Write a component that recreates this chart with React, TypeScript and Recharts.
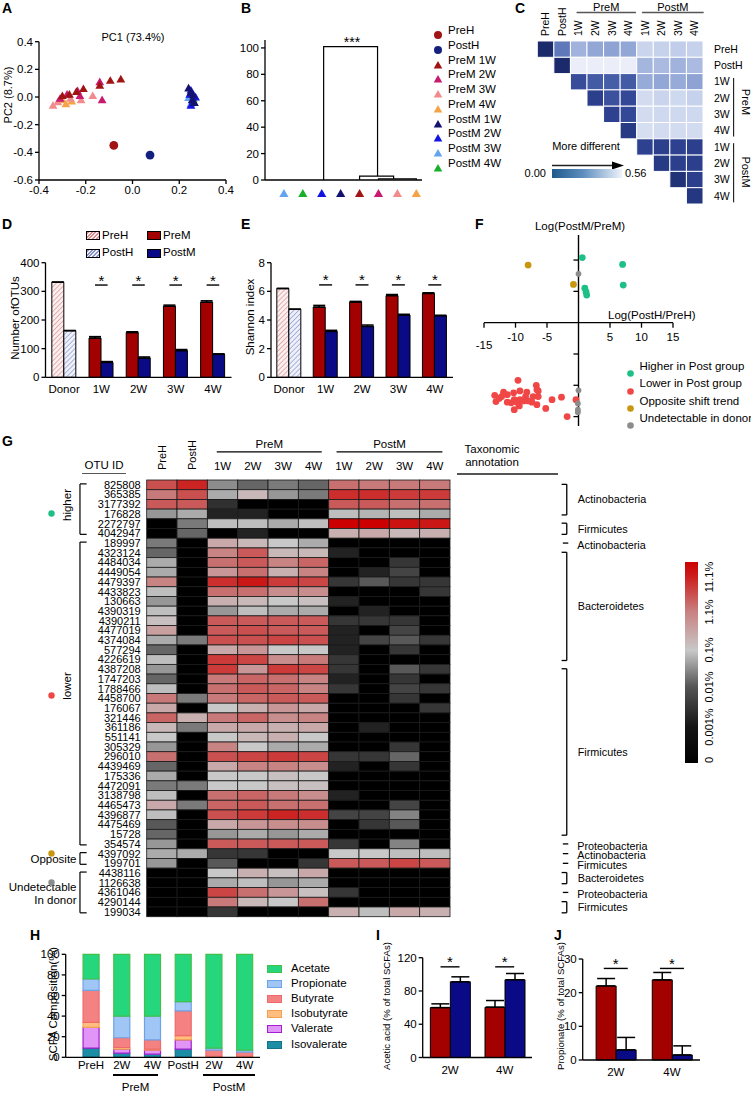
import React from 'react';
import {
  ScatterChart,
  Scatter,
  ComposedChart,
  BarChart,
  LineChart,
  Line,
  Bar,
  Cell,
  ErrorBar,
  XAxis,
  YAxis,
  ReferenceLine
} from 'recharts';

const FONT = '"Liberation Sans", Arial, Helvetica, sans-serif';
const PRE_RED = '#a30000';
const POST_NAVY = '#0a0a86';
const AXIS = { stroke: '#000', strokeWidth: 1.3 };

// ---------- A: PCoA ----------
const pcaPreH = [{ x: -0.08, y: -0.35 }];
const pcaPostH = [{ x: 0.075, y: -0.42 }];
const pcaPreM1W = [
  { x: -0.05, y: 0.13 }, { x: -0.095, y: 0.12 }, { x: -0.14, y: 0.085 },
  { x: -0.21, y: 0.06 }, { x: -0.24, y: 0.04 }, { x: -0.27, y: 0.02 }, { x: -0.3, y: 0.01 }
];
const pcaPreM2W = [
  { x: -0.14, y: 0.11 }, { x: -0.13, y: -0.02 }, { x: -0.235, y: 0.045 },
  { x: -0.28, y: 0.02 }, { x: -0.31, y: -0.01 }, { x: -0.225, y: 0.01 }
];
const pcaPreM3W = [
  { x: -0.17, y: 0.01 }, { x: -0.22, y: -0.02 }, { x: -0.34, y: -0.06 },
  { x: -0.32, y: -0.035 }, { x: -0.265, y: -0.01 }
];
const pcaPreM4W = [{ x: -0.285, y: -0.05 }, { x: -0.26, y: -0.03 }, { x: -0.3, y: -0.02 }];
const pcaPostM1W = [
  { x: 0.24, y: 0.065 }, { x: 0.25, y: 0.035 }, { x: 0.26, y: 0.015 },
  { x: 0.255, y: -0.02 }, { x: 0.265, y: -0.04 }
];
const pcaPostM2W = [
  { x: 0.25, y: 0.05 }, { x: 0.27, y: 0.0 }, { x: 0.26, y: -0.03 },
  { x: 0.25, y: -0.06 }, { x: 0.245, y: 0.02 }
];
const pcaPostM3W = [{ x: 0.24, y: -0.005 }, { x: 0.25, y: -0.05 }];
const pcaPostM4W = [{ x: 0.26, y: -0.01 }];

const pcaSeries = [
  { name: 'PreH', data: pcaPreH, color: '#a01414', dot: true },
  { name: 'PostH', data: pcaPostH, color: '#13207e', dot: true },
  { name: 'PreM 1W', data: pcaPreM1W, color: '#a01414', dot: false },
  { name: 'PreM 2W', data: pcaPreM2W, color: '#c81a6e', dot: false },
  { name: 'PreM 3W', data: pcaPreM3W, color: '#f28c8c', dot: false },
  { name: 'PreM 4W', data: pcaPreM4W, color: '#f6a347', dot: false },
  { name: 'PostM 1W', data: pcaPostM1W, color: '#13136e', dot: false },
  { name: 'PostM 2W', data: pcaPostM2W, color: '#1414e0', dot: false },
  { name: 'PostM 3W', data: pcaPostM3W, color: '#62a4f0', dot: false },
  { name: 'PostM 4W', data: pcaPostM4W, color: '#16b02a', dot: false }
];
const colorOf = (name: string) => pcaSeries.find((s) => s.name === name)?.color ?? '#000';

// ---------- B: dendrogram ----------
const dendroLeaves = ['PostM 3W', 'PostM 4W', 'PostM 2W', 'PostM 1W', 'PreM 1W', 'PreM 2W', 'PreM 3W', 'PreM 4W'];
const dendroBranches = [
  [{ x: 3.1, y: 0 }, { x: 3.1, y: 101 }, { x: 5.95, y: 101 }, { x: 5.95, y: 3 }],
  [{ x: 5.0, y: 0 }, { x: 5.0, y: 3 }, { x: 6.8, y: 3 }, { x: 6.8, y: 0.8 }],
  [{ x: 6.0, y: 0 }, { x: 6.0, y: 0.8 }, { x: 8.0, y: 0.8 }, { x: 8.0, y: 0 }]
];

// ---------- C: distance matrix ----------
const distLabels = ['PreH', 'PostH', '1W', '2W', '3W', '4W', '1W', '2W', '3W', '4W'];
const distMatrix = [
  [0.0, 0.22, 0.37, 0.34, 0.33, 0.34, 0.46, 0.45, 0.44, 0.45],
  [null, 0.0, 0.54, 0.54, 0.54, 0.54, 0.38, 0.39, 0.37, 0.39],
  [null, null, 0.12, 0.15, 0.16, 0.15, 0.35, 0.34, 0.35, 0.33],
  [null, null, null, 0.08, 0.13, 0.11, 0.48, 0.46, 0.47, 0.45],
  [null, null, null, null, 0.09, 0.11, 0.48, 0.47, 0.47, 0.47],
  [null, null, null, null, null, 0.06, 0.49, 0.48, 0.48, 0.48],
  [null, null, null, null, null, null, 0.09, 0.08, 0.09, 0.08],
  [null, null, null, null, null, null, null, 0.06, 0.08, 0.08],
  [null, null, null, null, null, null, null, null, 0.03, 0.08],
  [null, null, null, null, null, null, null, null, null, 0.05]
];

// ---------- D / E: richness ----------
const groupCats = ['Donor', '1W', '2W', '3W', '4W'];
const otuPre = [332, 137, 156, 248, 262];
const otuPreErr = [0, 5, 3, 4, 5];
const otuPost = [163, 52, 67, 93, 80];
const otuPostErr = [0, 3, 4, 4, 2];
const otuSig = [null, 322, 322, 322, 322];
const shannonPre = [6.2, 4.9, 5.25, 5.7, 5.85];
const shannonPreErr = [0, 0.12, 0.05, 0.08, 0.05];
const shannonPost = [4.75, 3.2, 3.55, 4.35, 4.3];
const shannonPostErr = [0, 0.08, 0.1, 0.05, 0.03];
const shannonSig = [null, 6.45, 6.45, 6.45, 6.45];

// ---------- F: shift scatter ----------
const shiftHigher = [
  { x: 0.6, y: 10.4 }, { x: 7.0, y: 9.3 }, { x: 7.1, y: 6.0 },
  { x: 1.0, y: 5.5 }, { x: 1.2, y: 4.9 }, { x: 1.3, y: 4.4 }
];
const shiftLower = [
  { x: -9.6, y: -9.2 }, { x: -6.7, y: -10.0 }, { x: -6.6, y: -10.7 }, { x: -11.9, y: -11.1 },
  { x: -13.3, y: -11.6 }, { x: -12.6, y: -12.1 }, { x: -11.3, y: -11.5 }, { x: -10.3, y: -11.2 },
  { x: -9.3, y: -10.9 }, { x: -8.2, y: -11.1 }, { x: -10.2, y: -12.3 }, { x: -9.3, y: -12.3 },
  { x: -8.4, y: -11.8 }, { x: -7.2, y: -11.8 }, { x: -6.4, y: -11.8 }, { x: -4.2, y: -12.3 },
  { x: -2.7, y: -11.9 }, { x: -13.1, y: -12.6 }, { x: -10.7, y: -12.8 }, { x: -9.8, y: -12.7 },
  { x: -7.4, y: -12.7 }, { x: -6.6, y: -13.1 }, { x: -5.2, y: -13.7 }, { x: -10.2, y: -13.9 },
  { x: -9.4, y: -13.3 }, { x: -8.7, y: -12.5 }, { x: -1.8, y: -15.0 }, { x: -0.4, y: -12.3 },
  { x: -11.3, y: -12.7 }, { x: -6.4, y: -10.9 }, { x: -12.2, y: -11.8 }, { x: -8.0, y: -12.5 }
];
const shiftOpposite = [{ x: -8.0, y: 9.2 }, { x: -0.8, y: 6.1 }];
const shiftUndetect = [
  { x: 0, y: 7.8 }, { x: 0, y: -10.8 }, { x: -0.1, y: -12.9 }, { x: -0.1, y: -13.9 }, { x: -0.1, y: -14.3 }
];
const shiftXTicks = [-15, -10, -5, 5, 10, 15];
const shiftYTicks = [-15, -10, -5, 5, 10];
const shiftSeries = [
  { name: 'Higher in Post group', data: shiftHigher, color: '#1dbf87', r: 3.4 },
  { name: 'Lower in Post group', data: shiftLower, color: '#f04646', r: 3.4 },
  { name: 'Opposite shift trend', data: shiftOpposite, color: '#c8960f', r: 3.4 },
  { name: 'Undetectable in donor', data: shiftUndetect, color: '#8c8c8c', r: 2.9 }
];

// ---------- G: OTU heatmap ----------
const heatCols = ['PreH', 'PostH', '1W', '2W', '3W', '4W', '1W', '2W', '3W', '4W'];
const otuIds = [
  '825808', '365385', '3177392', '176828', '2272797', '4042947', '189997', '4323124', '4484034',
  '4449054', '4479397', '4433823', '130663', '4390319', '4390211', '4477019', '4374084', '577294',
  '4226619', '4387208', '1747203', '1788466', '4458700', '176067', '321446', '361186', '551141',
  '305329', '296010', '4439469', '175336', '4472091', '3138798', '4465473', '4396877', '4475469',
  '15728', '354574', '4397092', '199701', '4438116', '1126638', '4361046', '4290144', '199034'
];
const otuTaxa = [
  'Bifidobacterium', 'Bifidobacterium', 'Bifidobacterium', 'Coriobacteriaceae', 'Lactobacillales',
  'Lactobacillus', 'Collinsella', 'Barnesiellaceae', 'Bacteroides', 'Bacteroides', 'Bacteroides',
  'Bacteroides', 'Bacteroides', 'Bacteroides', 'Bacteroides', 'Parabacteroides', 'Parabacteroides',
  'Parabacteroides', 'Rikenellaceae', 'Enterococcus', 'Clostridiales', 'Lachnospiraceae',
  'Ruminococcus', 'Ruminococcus', 'Ruminococcus', 'Blautia', 'Coprococcus', 'Dorea', 'Dorea',
  'Ruminococcaceae', 'Oscillospira', 'Ruminococcus', 'Phascolarctobacterium', 'Erysipelotrichaceae',
  'Eubacterium', 'Eubacterium', 'Holdemania', 'Bilophila', 'Coriobacteriaceae', 'Clostridiaceae',
  'Bacteroides', 'Bacteroides', 'Campylobacter', 'Enterococcus', 'Clostridium'
];
// log-abundance level: 0 = 0, 1 = 0.001%, 2 = 0.01%, 3 = 0.1%, 4 = 1.1%, 5 = 11.1%
const heatRows = [
  [4.3, 4.7, 2.4, 2.0, 2.2, 2.0, 4.0, 3.9, 3.9, 3.9],
  [3.9, 4.3, 2.7, 3.2, 2.5, 2.2, 4.6, 4.6, 4.5, 4.5],
  [4.2, 4.2, 1.2, 0, 0, 0, 4.2, 4.2, 4.0, 4.0],
  [2.5, 2.7, 1.0, 1.0, 0, 0, 2.9, 2.8, 2.9, 2.7],
  [0, 2.2, 2.9, 2.9, 2.7, 2.9, 5.0, 5.0, 4.85, 4.8],
  [0, 2.0, 0, 1.0, 0, 0, 3.3, 3.4, 3.2, 3.3],
  [2.2, 0, 3.4, 3.2, 3.0, 2.7, 0, 0, 0, 0],
  [2.0, 0, 3.8, 4.2, 3.2, 3.2, 1.0, 0, 0, 0],
  [2.7, 0, 4.0, 4.2, 3.8, 4.1, 0, 0, 1.3, 0],
  [2.7, 0, 3.6, 4.0, 3.3, 3.8, 0, 1.0, 1.5, 0],
  [3.8, 0, 4.6, 4.8, 4.5, 4.4, 1.3, 1.8, 1.3, 1.3],
  [2.9, 0, 4.0, 4.0, 3.7, 3.7, 0, 0, 0, 1.3],
  [2.5, 0, 3.3, 3.2, 3.0, 3.1, 1.0, 0, 0, 0],
  [2.9, 0, 2.5, 2.9, 2.7, 2.7, 0, 1.0, 0, 0],
  [3.1, 0, 4.2, 4.2, 4.2, 4.2, 1.3, 1.3, 1.3, 0],
  [3.5, 0, 4.2, 4.3, 4.2, 4.2, 1.0, 0, 1.5, 0],
  [2.7, 2.2, 4.3, 4.3, 4.4, 4.3, 1.0, 1.5, 1.8, 1.3],
  [2.0, 0, 3.4, 3.6, 3.0, 3.0, 1.0, 0, 1.3, 0],
  [2.9, 0, 4.5, 4.4, 3.7, 3.9, 1.3, 0, 0, 0],
  [2.5, 0, 4.5, 3.6, 4.5, 4.4, 1.3, 0, 1.8, 1.3],
  [2.0, 0, 3.9, 4.1, 4.0, 3.8, 1.0, 0, 1.3, 0],
  [2.9, 0, 4.0, 4.2, 4.1, 3.8, 1.3, 0, 1.5, 1.3],
  [3.9, 2.2, 3.9, 4.1, 4.2, 4.2, 0, 0, 1.3, 0],
  [3.4, 0, 3.0, 3.3, 3.6, 3.4, 0, 0, 0, 1.3],
  [4.1, 3.3, 3.9, 4.1, 3.7, 3.8, 0, 0, 0, 0],
  [3.2, 2.2, 3.4, 3.4, 3.3, 3.4, 0, 1.0, 0, 0],
  [3.0, 0, 3.0, 3.2, 3.3, 3.0, 0, 0, 0, 0],
  [2.5, 0, 3.8, 3.0, 2.7, 2.7, 0, 0, 1.3, 0],
  [4.0, 0, 4.3, 4.4, 4.5, 4.4, 1.3, 1.3, 2.0, 0],
  [2.0, 0, 3.4, 3.8, 3.8, 3.7, 1.0, 0, 1.3, 0],
  [2.7, 0, 3.0, 3.0, 3.1, 3.0, 0, 0, 0, 0],
  [2.2, 2.2, 3.0, 3.0, 3.1, 3.1, 0, 0, 0, 0],
  [2.9, 0, 4.0, 4.1, 3.9, 3.7, 1.0, 0, 0, 0],
  [3.4, 2.2, 4.1, 4.2, 4.0, 4.0, 0, 0, 1.5, 0],
  [2.9, 0, 4.3, 4.5, 4.7, 4.6, 1.5, 1.5, 2.3, 0],
  [1.8, 0, 3.4, 3.6, 3.7, 3.7, 0, 1.3, 1.8, 0],
  [2.0, 0, 2.5, 2.7, 2.5, 2.7, 0, 0, 0, 0],
  [2.5, 0, 4.2, 4.2, 4.2, 4.2, 1.3, 0, 2.3, 0],
  [2.7, 2.7, 1.3, 1.3, 0, 0, 3.0, 3.0, 2.9, 2.9],
  [2.5, 0, 1.8, 0, 0, 1.3, 4.2, 4.2, 4.4, 4.2],
  [0, 0, 3.0, 3.3, 3.1, 3.4, 0, 0, 0, 0],
  [0, 0, 2.7, 2.9, 2.5, 2.7, 0, 0, 0, 0],
  [0, 0, 4.4, 4.0, 3.6, 3.1, 1.3, 0, 0, 0],
  [0, 0, 3.9, 3.2, 3.0, 4.0, 0, 0, 0, 0],
  [0, 0, 1.3, 0, 0, 0, 3.3, 2.9, 3.4, 3.3]
];
const phylumGroups = [
  { name: 'Actinobacteria', from: 0, to: 3 },
  { name: 'Firmicutes', from: 4, to: 5 },
  { name: 'Actinobacteria', from: 6, to: 6 },
  { name: 'Bacteroidetes', from: 7, to: 18 },
  { name: 'Firmicutes', from: 19, to: 36 },
  { name: 'Proteobacteria', from: 37, to: 37 },
  { name: 'Actinobacteria', from: 38, to: 38 },
  { name: 'Firmicutes', from: 39, to: 39 },
  { name: 'Bacteroidetes', from: 40, to: 41 },
  { name: 'Proteobacteria', from: 42, to: 42 },
  { name: 'Firmicutes', from: 43, to: 44 }
];
const otuGroups = [
  { from: 0, to: 5 },
  { from: 6, to: 37 },
  { from: 38, to: 39 },
  { from: 40, to: 44 }
];
const heatScaleLabels = ['11.1%', '1.1%', '0.1%', '0.01%', '0.001%', '0'];

// ---------- H / I / J: SCFA ----------
const scfaCats = ['PreH', '2W', '4W', 'PostH', '2W', '4W'];
const isovalerate = [9, 4, 3, 8, 0, 0];
const valerate = [20, 4, 4, 9, 0, 0];
const isobutyrate = [5, 1.5, 1, 4, 1, 1];
const butyrate = [31, 9.5, 9, 24, 6, 4];
const propionate = [11, 21, 23, 9, 2, 2];
const acetate = [24, 60, 60, 46, 91, 93];
const scfaSeries = [
  { key: 'Isovalerate', values: isovalerate, fill: '#1b8ea6', stroke: '#137489' },
  { key: 'Valerate', values: valerate, fill: '#e196f7', stroke: '#a21fd2' },
  { key: 'Isobutyrate', values: isobutyrate, fill: '#ffbe80', stroke: '#f3a050' },
  { key: 'Butyrate', values: butyrate, fill: '#f58282', stroke: '#ef6a6a' },
  { key: 'Propionate', values: propionate, fill: '#9fc6f4', stroke: '#6ea2e6' },
  { key: 'Acetate', values: acetate, fill: '#26d67c', stroke: '#42c04a' }
];
const weekCats = ['2W', '4W'];
const acetPre = [60, 60.5];
const acetPreErr = [4.5, 8];
const acetPost = [91, 93.5];
const acetPostErr = [6, 7.5];
const acetSig = [109, 109];
const propPre = [22, 23.8];
const propPreErr = [2.2, 2.2];
const propPost = [3, 1.5];
const propPostErr = [3.7, 2.7];
const propSig = [27.2, 27.2];

// ---------- helpers ----------
const hexRgb = (h: string) => [1, 3, 5].map((i) => parseInt(h.slice(i, i + 2), 16));
const rampColor = (stops: [number, string][], v: number) => {
  if (v <= stops[0][0]) return stops[0][1];
  for (let i = 1; i < stops.length; i++) {
    if (v <= stops[i][0]) {
      const [a, ca] = stops[i - 1];
      const [b, cb] = stops[i];
      const t = (v - a) / (b - a);
      const pa = hexRgb(ca);
      const pb = hexRgb(cb);
      return 'rgb(' + pa.map((c, k) => Math.round(c + (pb[k] - c) * t)).join(',') + ')';
    }
  }
  return stops[stops.length - 1][1];
};
const DIST_STOPS: [number, string][] = [
  [0, '#1b2a6b'], [0.1, '#2f4494'], [0.2, '#5670b4'], [0.33, '#8ea3d4'], [0.45, '#c6d1ec'], [0.56, '#f3f5fb']
];
const HEAT_STOPS: [number, string][] = [
  [0, '#000000'], [1, '#222222'], [2, '#666666'], [3, '#c8c8c8'], [3.5, '#c8a0a0'],
  [4, '#c87070'], [4.5, '#cc3a3a'], [5, '#cc0000']
];

const pairRows = (cats: string[], pre: number[], preErr: number[], post: number[], postErr: number[], sig: (number | null)[]) =>
  cats.map((cat, i) => ({
    cat,
    pre: pre[i],
    preErr: [0, preErr[i]],
    post: post[i],
    postErr: [0, postErr[i]],
    sig: sig[i]
  }));
const otuRows = pairRows(groupCats, otuPre, otuPreErr, otuPost, otuPostErr, otuSig);
const shannonRows = pairRows(groupCats, shannonPre, shannonPreErr, shannonPost, shannonPostErr, shannonSig);
const acetRows = pairRows(weekCats, acetPre, acetPreErr, acetPost, acetPostErr, acetSig);
const propRows = pairRows(weekCats, propPre, propPreErr, propPost, propPostErr, propSig);

const scfaRows = scfaCats.map((cat, i) => {
  const row: any = { cat };
  scfaSeries.forEach((s) => (row[s.key] = s.values[i]));
  return row;
});

const distCells: any[] = [];
distMatrix.forEach((row, r) =>
  row.forEach((d, c) => {
    if (d !== null) distCells.push({ x: c + 0.5, y: r + 0.5, d });
  })
);
const heatCells: any[] = [];
heatRows.forEach((row, r) => row.forEach((v, c) => heatCells.push({ x: c + 0.5, y: r + 0.5, v })));
const rowTicks = otuIds.map((_, i) => i + 0.5);
const colTicks = heatCols.map((_, i) => i + 0.5);

// ---------- small shapes ----------
const Tri = (p: any) => {
  const { cx, cy, fill } = p;
  return <polygon points={`${cx},${cy - 4.2} ${cx + 4.4},${cy + 3.4} ${cx - 4.4},${cy + 3.4}`} fill={fill} />;
};
const Dot = (p: any) => <circle cx={p.cx} cy={p.cy} r={4.4} fill={p.fill} />;

const LeafTick = (p: any) => {
  const name = dendroLeaves[Math.round(p.payload.value) - 1];
  const { x, y } = p;
  const cy = y + 13.5;
  return <polygon points={`${x},${cy - 4.5} ${x + 4.6},${cy + 3.6} ${x - 4.6},${cy + 3.6}`} fill={colorOf(name)} />;
};

const RotTick = (p: any) => {
  const label = distLabels[Math.floor(p.payload.value)];
  return (
    <text x={p.x} y={p.y} dy="0.35em" textAnchor="start" fontSize={10.5} fill="#000" fontFamily={FONT}
      transform={`rotate(-90 ${p.x} ${p.y})`}>
      {label}
    </text>
  );
};

const GColTick = (p: any) => {
  const i = Math.floor(p.payload.value);
  const label = heatCols[i];
  if (i < 2) {
    return (
      <text x={p.x} y={p.y} dy="0.35em" textAnchor="start" fontSize={11} fill="#000" fontFamily={FONT}
        transform={`rotate(-90 ${p.x} ${p.y})`}>
        {label}
      </text>
    );
  }
  return (
    <text x={p.x} y={p.y} textAnchor="middle" fontSize={11.5} fill="#000" fontFamily={FONT}>
      {label}
    </text>
  );
};

const DistCell = (p: any) => (
  <rect x={p.cx - 8.3} y={p.cy - 8.17} width={16.6} height={16.33}
    fill={rampColor(DIST_STOPS, p.payload.d)} stroke="#fff" strokeWidth={1} />
);
const HEAT_W = 30.33;
const HEAT_H = 9.704;
const HeatCell = (p: any) => (
  <rect x={p.cx - HEAT_W / 2} y={p.cy - HEAT_H / 2} width={HEAT_W} height={HEAT_H}
    fill={rampColor(HEAT_STOPS, p.payload.v)} stroke="#1a1a1a" strokeWidth={0.8} />
);

const makeSig = (hw: number) => (p: any) => {
  const { cx, cy, payload } = p;
  if (!payload || payload.sig == null || !isFinite(cy)) return <g />;
  return (
    <g>
      <line x1={cx - hw} x2={cx + hw} y1={cy} y2={cy} stroke="#000" strokeWidth={1.4} />
      <text x={cx} y={cy + 0.5} textAnchor="middle" fontSize={15} fill="#000" fontFamily={FONT}>*</text>
    </g>
  );
};

const XTickLabel = (p: any) => {
  // the leftmost label of panel F sits a little lower in the original layout
  const { viewBox, value } = p;
  const low = value === '-15';
  return (
    <text x={viewBox.x} y={viewBox.y + viewBox.height + (low ? 13 : 5)} dy="0.71em" textAnchor="middle"
      fontSize={11.5} fill="#000" fontFamily={FONT}>
      {value}
    </text>
  );
};

const Txt: React.FC<{
  x: number; y: number; size?: number; anchor?: 'start' | 'middle' | 'end';
  rot?: number; bold?: boolean; color?: string; children: React.ReactNode;
}> = ({ x, y, size = 11, anchor = 'start', rot = 0, bold = false, color = '#000', children }) => {
  const tx = anchor === 'start' ? '0' : anchor === 'middle' ? '-50%' : '-100%';
  return (
    <div style={{
      position: 'absolute', left: x, top: y, transform: `translate(${tx},-50%) rotate(${rot}deg)`,
      fontSize: size, lineHeight: 1, whiteSpace: 'nowrap', fontWeight: bold ? 700 : 400, color
    }}>
      {children}
    </div>
  );
};
const Box: React.FC<{ x: number; y: number; w: number; h: number; bg: string; border?: string }> = ({ x, y, w, h, bg, border }) => (
  <div style={{ position: 'absolute', left: x, top: y, width: w, height: h, background: bg, border, boxSizing: 'border-box' }} />
);
const Place: React.FC<{ x: number; y: number; children: React.ReactNode }> = ({ x, y, children }) => (
  <div style={{ position: 'absolute', left: x, top: y }}>{children}</div>
);

// grouped pre/post bars used by D, E, I, J
const PairBars: React.FC<{
  rows: any[]; width: number; height: number; margin: any; yWidth: number;
  domain: [number, number]; ticks: number[]; gap: string; hatchFirst?: boolean;
  sigHalf: number; padLeft?: number; capW?: number;
}> = (p) => (
  <ComposedChart width={p.width} height={p.height} data={p.rows} margin={p.margin} barCategoryGap={p.gap} barGap={0}>
    <XAxis dataKey="cat" height={20} tickLine={false} axisLine={AXIS} padding={{ left: p.padLeft ?? 0, right: 0 }}
      tick={{ fontSize: 11.5, fill: '#000', fontFamily: FONT }} />
    <YAxis type="number" domain={p.domain} ticks={p.ticks} interval={0} width={p.yWidth}
      axisLine={AXIS} tickLine={AXIS} tickSize={4} tick={{ fontSize: 11.5, fill: '#000', fontFamily: FONT }} />
    <Bar dataKey="pre" stroke="#000" strokeWidth={1} isAnimationActive={false}>
      {p.rows.map((_, i) => (
        <Cell key={i} fill={p.hatchFirst && i === 0 ? 'url(#hatchPink)' : PRE_RED} />
      ))}
      <ErrorBar dataKey="preErr" direction="y" width={p.capW ?? 6} stroke="#000" strokeWidth={1.5} />
    </Bar>
    <Bar dataKey="post" stroke="#000" strokeWidth={1} isAnimationActive={false}>
      {p.rows.map((_, i) => (
        <Cell key={i} fill={p.hatchFirst && i === 0 ? 'url(#hatchBlue)' : POST_NAVY} />
      ))}
      <ErrorBar dataKey="postErr" direction="y" width={p.capW ?? 6} stroke="#000" strokeWidth={1.5} />
    </Bar>
    <Scatter dataKey="sig" shape={makeSig(p.sigHalf)} isAnimationActive={false} />
  </ComposedChart>
);

const tickStyle = { fontSize: 11.5, fill: '#000', fontFamily: FONT };

export default function App() {
  return (
    <div style={{
      position: 'absolute', left: 0, top: 0, width: 751, height: 1094, background: '#fff',
      fontFamily: FONT, color: '#000', overflow: 'hidden'
    }}>
      <svg width={0} height={0} style={{ position: 'absolute' }}>
        <defs>
          <pattern id="hatchPink" width="3.5" height="3.5" patternUnits="userSpaceOnUse" patternTransform="rotate(45)">
            <rect width="3.5" height="3.5" fill="#fbeeee" />
            <line x1="0" y1="0" x2="0" y2="3.5" stroke="#d98e8e" strokeWidth="1.3" />
          </pattern>
          <pattern id="hatchBlue" width="3.5" height="3.5" patternUnits="userSpaceOnUse" patternTransform="rotate(45)">
            <rect width="3.5" height="3.5" fill="#eef0fa" />
            <line x1="0" y1="0" x2="0" y2="3.5" stroke="#8791c9" strokeWidth="1.3" />
          </pattern>
        </defs>
      </svg>

      {/* panel letters */}
      <Txt x={2} y={8} size={14} bold>A</Txt>
      <Txt x={241} y={8} size={14} bold>B</Txt>
      <Txt x={515} y={8} size={14} bold>C</Txt>
      <Txt x={2} y={224} size={14} bold>D</Txt>
      <Txt x={241} y={224} size={14} bold>E</Txt>
      <Txt x={475} y={224} size={14} bold>F</Txt>
      <Txt x={2} y={441} size={14} bold>G</Txt>
      <Txt x={30} y={935} size={14} bold>H</Txt>
      <Txt x={376} y={935} size={14} bold>I</Txt>
      <Txt x={554} y={935} size={14} bold>J</Txt>

      {/* ---------- A ---------- */}
      <Place x={0} y={0}>
        <ScatterChart width={238} height={200} margin={{ top: 41.7, right: 12, bottom: 0, left: 0 }}>
          <XAxis type="number" dataKey="x" domain={[-0.4, 0.4]} ticks={[-0.4, -0.2, 0, 0.2, 0.4]} interval={0}
            tickFormatter={(v: number) => v.toFixed(1)} height={20} axisLine={AXIS} tickLine={AXIS} tickSize={4} tick={tickStyle} />
          <YAxis type="number" dataKey="y" domain={[-0.6, 0.4]} ticks={[-0.6, -0.4, -0.2, 0, 0.2, 0.4]} interval={0}
            tickFormatter={(v: number) => v.toFixed(1)} width={39} axisLine={AXIS} tickLine={AXIS} tickSize={4} tick={tickStyle} />
          {[...pcaSeries].reverse().map((s) => (
            <Scatter key={s.name} name={s.name} data={s.data} fill={s.color} shape={s.dot ? Dot : Tri} isAnimationActive={false} />
          ))}
        </ScatterChart>
      </Place>
      <Txt x={133} y={37} anchor="middle" size={11}>PC1 (73.4%)</Txt>
      <Txt x={8} y={95} anchor="middle" rot={-90} size={11}>PC2 (8.7%)</Txt>

      {/* ---------- B ---------- */}
      <Place x={240} y={0}>
        <LineChart width={187} height={205} margin={{ top: 40, right: 5, bottom: 0, left: 0 }}>
          <XAxis type="number" dataKey="x" domain={[0, 8.3]} ticks={[1, 2, 3, 4, 5, 6, 7, 8]} interval={0}
            height={25} axisLine={AXIS} tickLine={false} tickSize={0} tickMargin={0} tick={<LeafTick />} />
          <YAxis type="number" domain={[0, 106]} ticks={[0, 20, 40, 60, 80, 100]} interval={0} width={25}
            axisLine={AXIS} tickLine={AXIS} tickSize={4} tick={tickStyle} />
          {dendroBranches.map((b, i) => (
            <Line key={i} data={b} dataKey="y" type="linear" stroke="#000" strokeWidth={1.2} dot={false} isAnimationActive={false} />
          ))}
        </LineChart>
      </Place>
      <Txt x={352} y={42} anchor="middle" size={14}>***</Txt>
      {pcaSeries.map((s, i) => (
        <React.Fragment key={s.name}>
          <Place x={433} y={26 + i * 14.78}>
            <svg width={10} height={10}>
              {s.dot
                ? <circle cx={5} cy={5} r={4} fill={s.color} />
                : <polygon points="5,1 9.3,8.6 0.7,8.6" fill={s.color} />}
            </svg>
          </Place>
          <Txt x={448} y={31 + i * 14.78} size={11.5}>{s.name}</Txt>
        </React.Fragment>
      ))}

      {/* ---------- C ---------- */}
      <Place x={480} y={0}>
        <ScatterChart width={271} height={210} margin={{ top: 0, right: 8, bottom: 6, left: 57.3 }}>
          <XAxis type="number" dataKey="x" orientation="top" domain={[0, 10]} ticks={colTicks} interval={0} height={41}
            axisLine={false} tickLine={false} tickSize={0} tickMargin={5} tick={<RotTick />} />
          <YAxis type="number" dataKey="y" orientation="right" domain={[0, 10]} reversed ticks={colTicks} interval={0}
            width={40} axisLine={false} tickLine={false} tickSize={0} tickMargin={11}
            tickFormatter={(v: number) => distLabels[Math.floor(v)]} tick={{ fontSize: 10.5, fill: '#000', fontFamily: FONT }} />
          <Scatter data={distCells} shape={DistCell} isAnimationActive={false} />
          <ReferenceLine segment={[{ x: 2.37, y: -1.75 }, { x: 5.95, y: -1.75 }]} ifOverflow="visible" stroke="#555" strokeWidth={1.3}
            label={{ value: 'PreM', position: 'top', offset: 1, fontSize: 11, fill: '#000' }} />
          <ReferenceLine segment={[{ x: 6.32, y: -1.75 }, { x: 10.04, y: -1.75 }]} ifOverflow="visible" stroke="#555" strokeWidth={1.3}
            label={{ value: 'PostM', position: 'top', offset: 1, fontSize: 11, fill: '#000' }} />
          <ReferenceLine segment={[{ x: 11.85, y: 2.27 }, { x: 11.85, y: 5.86 }]} ifOverflow="visible" stroke="#000" strokeWidth={1} />
          <ReferenceLine segment={[{ x: 11.85, y: 6.27 }, { x: 11.85, y: 9.9 }]} ifOverflow="visible" stroke="#000" strokeWidth={1} />
        </ScatterChart>
      </Place>
      <Txt x={745} y={102} anchor="middle" rot={90} size={11}>PreM</Txt>
      <Txt x={745} y={172} anchor="middle" rot={90} size={11}>PostM</Txt>
      <Txt x={586} y={146} anchor="middle" size={11}>More different</Txt>
      <Place x={552} y={157}>
        <svg width={73} height={11}>
          <line x1={0} y1={5.5} x2={62} y2={5.5} stroke="#222" strokeWidth={1.3} />
          <polygon points="60,1.5 72,5.5 60,9.5" fill="#000" />
        </svg>
      </Place>
      <Box x={552} y={169} w={70} h={8.5} bg="linear-gradient(to right, #1f5a8c, #5f8fbf 45%, #eef3fa)" />
      <Txt x={546} y={173} anchor="end" size={11}>0.00</Txt>
      <Txt x={625} y={173} size={11}>0.56</Txt>

      {/* ---------- D ---------- */}
      <Place x={0} y={220}>
        <PairBars rows={otuRows} width={240} height={181} margin={{ top: 42.7, right: 8.5, bottom: 3.7, left: 0 }}
          yWidth={45.5} domain={[0, 400]} ticks={[0, 100, 200, 300, 400]} gap="17%" hatchFirst sigHalf={6.3} />
      </Place>
      <Txt x={16} y={318} anchor="middle" rot={-90} size={11.5}>Number ofOTUs</Txt>
      <Box x={86} y={231} w={14} h={9} bg="repeating-linear-gradient(-45deg, #fbeeee 0 1.3px, #d98e8e 1.3px 2.6px)" border="1px solid #000" />
      <Txt x={102} y={235.7} size={11.5}>PreH</Txt>
      <Box x={86} y={249} w={14} h={9} bg="repeating-linear-gradient(-45deg, #eef0fa 0 1.3px, #8791c9 1.3px 2.6px)" border="1px solid #000" />
      <Txt x={102} y={253.3} size={11.5}>PostH</Txt>
      <Box x={147} y={231} w={14} h={9} bg={PRE_RED} border="1px solid #000" />
      <Txt x={163} y={235.7} size={11.5}>PreM</Txt>
      <Box x={147} y={249} w={14} h={9} bg={POST_NAVY} border="1px solid #000" />
      <Txt x={163} y={253.3} size={11.5}>PostM</Txt>

      {/* ---------- E ---------- */}
      <Place x={240} y={220}>
        <PairBars rows={shannonRows} width={240} height={181} margin={{ top: 42.7, right: 27, bottom: 3.7, left: 0 }}
          yWidth={31} domain={[0, 8]} ticks={[0, 2, 4, 6, 8]} gap="16%" hatchFirst sigHalf={6.5} />
      </Place>
      <Txt x={251} y={317} anchor="middle" rot={-90} size={11.5}>Shannon index</Txt>

      {/* ---------- F ---------- */}
      <Place x={468} y={220}>
        <ScatterChart width={283} height={260} margin={{ top: 15, right: 78, bottom: 54, left: 16 }}>
          <XAxis type="number" dataKey="x" domain={[-15, 15]} hide />
          <YAxis type="number" dataKey="y" domain={[-16.5, 14]} hide />
          <ReferenceLine y={0} stroke="#000" strokeWidth={1.4} />
          <ReferenceLine x={0} stroke="#000" strokeWidth={1.4} />
          {shiftXTicks.map((t) => (
            <ReferenceLine key={'x' + t} segment={[{ x: t, y: 0 }, { x: t, y: -0.8 }]} stroke="#000" strokeWidth={1.3}
              label={<XTickLabel value={String(t)} />} />
          ))}
          {shiftYTicks.map((t) => (
            <ReferenceLine key={'y' + t} segment={[{ x: -0.8, y: t }, { x: 0, y: t }]} stroke="#000" strokeWidth={1.3} />
          ))}
          {shiftSeries.map((s) => (
            <Scatter key={s.name} name={s.name} data={s.data} fill={s.color} isAnimationActive={false}
              shape={(p: any) => <circle cx={p.cx} cy={p.cy} r={s.r} fill={s.color} />} />
          ))}
        </ScatterChart>
      </Place>
      <Txt x={580} y={227} anchor="middle" size={11.5}>Log(PostM/PreM)</Txt>
      <Txt x={608} y={315.5} size={11.5}>Log(PostH/PreH)</Txt>
      {shiftSeries.map((s, i) => (
        <React.Fragment key={s.name}>
          <Place x={626.5} y={363.2 + i * 17.4}>
            <svg width={7} height={7}><circle cx={3.5} cy={3.5} r={3.3} fill={s.color} /></svg>
          </Place>
          <Txt x={639.5} y={366.7 + i * 17.4} size={11.5}>{s.name}</Txt>
        </React.Fragment>
      ))}

      {/* ---------- G ---------- */}
      <Place x={0} y={430}>
        <ScatterChart width={751} height={500} margin={{ top: 10, right: 191, bottom: 13.3, left: 0 }}>
          <XAxis type="number" dataKey="x" orientation="top" domain={[0, 10]} ticks={colTicks} interval={0} height={40}
            axisLine={false} tickLine={false} tickSize={0} tickMargin={10} tick={<GColTick />} />
          <YAxis yAxisId="l" type="number" dataKey="y" domain={[0, 45]} reversed ticks={rowTicks} interval={0} width={146.7}
            axisLine={false} tickLine={false} tickSize={0} tickMargin={6}
            tickFormatter={(v: number) => otuIds[Math.floor(v)]} tick={{ fontSize: 11, fill: '#000', fontFamily: FONT }} />
          <YAxis yAxisId="r" orientation="right" type="number" domain={[0, 45]} reversed ticks={rowTicks} interval={0} width={110}
            axisLine={false} tickLine={false} tickSize={0} tickMargin={6}
            tickFormatter={(v: number) => otuTaxa[Math.floor(v)]} tick={{ fontSize: 10.8, fill: '#000', fontFamily: FONT }} />
          <Scatter yAxisId="l" data={heatCells} shape={HeatCell} isAnimationActive={false} />
          <ReferenceLine yAxisId="l" segment={[{ x: 2.31, y: -2.9 }, { x: 5.77, y: -2.9 }]} ifOverflow="visible" stroke="#000" strokeWidth={1.2}
            label={{ value: 'PreM', position: 'top', offset: 4, fontSize: 11.5, fill: '#000' }} />
          <ReferenceLine yAxisId="l" segment={[{ x: 6.26, y: -2.9 }, { x: 9.75, y: -2.9 }]} ifOverflow="visible" stroke="#000" strokeWidth={1.2}
            label={{ value: 'PostM', position: 'top', offset: 4, fontSize: 11.5, fill: '#000' }} />
          {otuGroups.map((g, i) => (
            <React.Fragment key={'g' + i}>
              <ReferenceLine yAxisId="l" segment={[{ x: -2.2, y: g.from + 0.4 }, { x: -2.2, y: g.to + 0.6 }]} ifOverflow="visible" stroke="#000" strokeWidth={1.2} />
              <ReferenceLine yAxisId="l" segment={[{ x: -2.2, y: g.from + 0.4 }, { x: -1.98, y: g.from + 0.4 }]} ifOverflow="visible" stroke="#000" strokeWidth={1.2} />
              <ReferenceLine yAxisId="l" segment={[{ x: -2.2, y: g.to + 0.6 }, { x: -1.98, y: g.to + 0.6 }]} ifOverflow="visible" stroke="#000" strokeWidth={1.2} />
            </React.Fragment>
          ))}
          {phylumGroups.map((g, i) =>
            g.from === g.to ? (
              <ReferenceLine key={'p' + i} yAxisId="l" segment={[{ x: 13.72, y: g.from + 0.5 }, { x: 13.9, y: g.from + 0.5 }]}
                ifOverflow="visible" stroke="#000" strokeWidth={1.3}
                label={{ value: g.name, position: 'right', offset: 9, fontSize: 10.8, fill: '#000', dy: 2 }} />
            ) : (
              <React.Fragment key={'p' + i}>
                <ReferenceLine yAxisId="l" segment={[{ x: 13.85, y: g.from + 0.45 }, { x: 13.85, y: g.to + 0.6 }]}
                  ifOverflow="visible" stroke="#000" strokeWidth={1.3}
                  label={{ value: g.name, position: 'right', offset: 11, fontSize: 10.8, fill: '#000' }} />
                <ReferenceLine yAxisId="l" segment={[{ x: 13.68, y: g.from + 0.45 }, { x: 13.85, y: g.from + 0.45 }]} ifOverflow="visible" stroke="#000" strokeWidth={1.3} />
                <ReferenceLine yAxisId="l" segment={[{ x: 13.68, y: g.to + 0.6 }, { x: 13.85, y: g.to + 0.6 }]} ifOverflow="visible" stroke="#000" strokeWidth={1.3} />
              </React.Fragment>
            )
          )}
        </ScatterChart>
      </Place>
      <Txt x={104} y={466} anchor="middle" size={11.5}>OTU ID</Txt>
      <Box x={82} y={472.5} w={44} h={1.8} bg="#555" />
      <Txt x={492} y={449.5} anchor="middle" size={11.5}>Taxonomic</Txt>
      <Txt x={492} y={462.5} anchor="middle" size={11.5}>annotation</Txt>
      <Box x={457} y={473} w={101} h={1.8} bg="#555" />
      <Txt x={68} y={505} anchor="middle" rot={-90} size={11.5}>higher</Txt>
      <Txt x={68} y={686} anchor="middle" rot={-90} size={11.5}>lower</Txt>
      <Txt x={76.5} y={859.5} anchor="end" size={11.5}>Opposite</Txt>
      <Txt x={76.5} y={887.5} anchor="end" size={11.5}>Undetectable</Txt>
      <Txt x={76.5} y={900.5} anchor="end" size={11.5}>In donor</Txt>
      {[
        { y: 506, c: shiftSeries[0].color },
        { y: 688, c: shiftSeries[1].color },
        { y: 846, c: shiftSeries[2].color },
        { y: 875.3, c: shiftSeries[3].color }
      ].map((d, i) => (
        <Place key={i} x={48} y={d.y - 3.5}>
          <svg width={7} height={7}><circle cx={3.5} cy={3.5} r={3.2} fill={d.c} /></svg>
        </Place>
      ))}
      <Box x={685} y={561.7} w={13.3} h={201.6}
        bg="linear-gradient(to bottom, #cc0000 0%, #cc1c1c 7%, #c98282 25%, #c8c8c8 44%, #555555 62%, #151515 82%, #000000 100%)" />
      {heatScaleLabels.map((t, i) => (
        <Txt key={t} x={708.5} y={[576.7, 611.7, 650, 686.7, 726.7, 760][i]} anchor="middle" rot={-90} size={11}>{t}</Txt>
      ))}

      {/* ---------- H ---------- */}
      <Place x={0} y={920}>
        <BarChart width={360} height={160} data={scfaRows} margin={{ top: 34.3, right: 100, bottom: 4.7, left: 0 }} barCategoryGap="24%">
          <XAxis dataKey="cat" height={18} padding={{ left: 10, right: 0 }} tickLine={false} tickSize={2} tickMargin={2}
            axisLine={AXIS} tick={tickStyle} />
          <YAxis type="number" domain={[0, 100]} ticks={[0, 20, 40, 60, 80, 100]} interval={0} width={65.7}
            axisLine={AXIS} tickLine={AXIS} tickSize={4} tick={tickStyle} />
          {scfaSeries.map((s) => (
            <Bar key={s.key} dataKey={s.key} stackId="s" fill={s.fill} stroke={s.stroke} strokeWidth={1.2} isAnimationActive={false} />
          ))}
        </BarChart>
      </Place>
      <Txt x={54} y={1004} anchor="middle" rot={-90} size={11.5}>SCFA Composition(%)</Txt>
      <Box x={113} y={1074.3} w={45} h={1.4} bg="#000" />
      <Box x={203} y={1074.3} w={52} h={1.4} bg="#000" />
      <Txt x={135.5} y={1088} anchor="middle" size={11.5}>PreM</Txt>
      <Txt x={229} y={1088} anchor="middle" size={11.5}>PostM</Txt>
      {[...scfaSeries].reverse().map((s, i) => (
        <React.Fragment key={s.key}>
          <Box x={267} y={965 + i * 15.1} w={15} h={8} bg={s.fill} border={`1.2px solid ${s.stroke}`} />
          <Txt x={291} y={969 + i * 15.1} size={11.5}>{s.key}</Txt>
        </React.Fragment>
      ))}

      {/* ---------- I ---------- */}
      <Place x={360} y={920}>
        <PairBars rows={acetRows} width={190} height={160} margin={{ top: 37.7, right: 18, bottom: 2.5, left: 0 }}
          yWidth={62.7} domain={[0, 120]} ticks={[0, 40, 80, 120]} gap="14%" sigHalf={9.5} capW={9} />
      </Place>
      <Txt x={387} y={1006} anchor="middle" rot={-90} size={9.6}>Acetic acid (% of total SCFAs)</Txt>

      {/* ---------- J ---------- */}
      <Place x={540} y={920}>
        <PairBars rows={propRows} width={211} height={160} margin={{ top: 39, right: 51, bottom: 0, left: 0 }}
          yWidth={42.7} domain={[0, 30]} ticks={[0, 10, 20, 30]} gap="15%" padLeft={5} sigHalf={12} capW={9} />
      </Place>
      <Txt x={561} y={1006} anchor="middle" rot={-90} size={9.6}>Propionate (% of total SCFAs)</Txt>
    </div>
  );
}
